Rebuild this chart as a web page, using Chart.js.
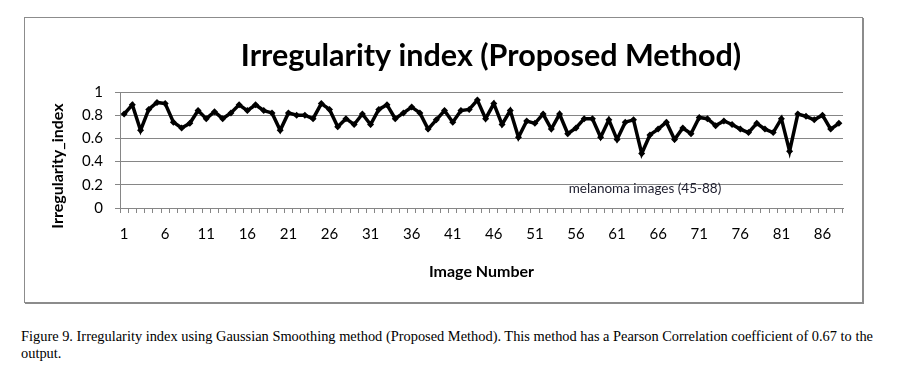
<!DOCTYPE html>
<html>
<head>
<meta charset="utf-8">
<script src="https://cdn.jsdelivr.net/npm/chart.js@4/dist/chart.umd.min.js"></script>
<style>
  body { margin: 0; background: #fff; width: 903px; height: 381px; position: relative; overflow: hidden; }
  #frame { position: absolute; left: 24px; top: 17px; width: 837px; height: 284px;
           border: 1px solid #8c8c8c; box-shadow: 1px 1px 0 #8c8c8c; }
  #caption { position: absolute; left: 21px; top: 328px; width: 870px; margin: 0;
             font-family: "Liberation Serif", serif; font-size: 14.4px; line-height: 17px; color: #000; }
</style>
</head>
<body>
<div id="frame"><canvas id="myChart" width="837" height="284"></canvas></div>
<p id="caption">Figure 9. Irregularity index using Gaussian Smoothing method (Proposed Method). This method has a Pearson Correlation coefficient of 0.67 to the output.</p>
<script>
// image numbers 1..88
var imagens = [];
for (var i = 1; i <= 88; i++) imagens.push(String(i));

var indice = [
  0.81, 0.89, 0.67, 0.85, 0.91, 0.90, 0.74, 0.69, 0.73, 0.84,
  0.77, 0.83, 0.77, 0.82, 0.89, 0.84, 0.89, 0.84, 0.82, 0.67,
  0.82, 0.80, 0.80, 0.77, 0.90, 0.85, 0.70, 0.77, 0.72, 0.81,
  0.72, 0.85, 0.89, 0.77, 0.82, 0.87, 0.82, 0.68, 0.76, 0.84,
  0.74, 0.84, 0.85, 0.93, 0.77, 0.90, 0.72, 0.84, 0.61, 0.75,
  0.73, 0.81, 0.68, 0.81, 0.64, 0.69, 0.77, 0.77, 0.61, 0.76,
  0.59, 0.74, 0.76, 0.47, 0.63, 0.68, 0.74, 0.59, 0.69, 0.64,
  0.78, 0.77, 0.71, 0.75, 0.72, 0.68, 0.65, 0.73, 0.68, 0.65,
  0.77, 0.49, 0.81, 0.79, 0.76, 0.80, 0.68, 0.73
];

var yTicks = [0, 0.2, 0.4, 0.6, 0.8, 1];

var anotacao = { texto: 'melanoma images (45-88)', imagem: '55', valor: 0.165 };
var tituloY = 'Irregularity_index';

var fonte = 'Lato, "Open Sans", sans-serif';
var cinza = '#868686';

var pluginTexto = {
  id: 'textosExtra',
  afterLayout: function (chart) {
    // title sits right of the frame centre, like the original
    chart.titleBlock.left += 114;
  },
  afterDatasetsDraw: function (chart) {
    var ctx = chart.ctx;
    var x = chart.scales.x.getPixelForValue(imagens.indexOf(anotacao.imagem)) + 1;
    var y = chart.scales.y.getPixelForValue(anotacao.valor);
    ctx.save();
    ctx.font = '13.5px ' + fonte;
    ctx.fillStyle = '#1f1f2f';
    ctx.textAlign = 'left';
    ctx.textBaseline = 'middle';
    ctx.fillText(anotacao.texto, x, y);

    // y axis title, a little lower than the plot centre
    ctx.translate(33, 148);
    ctx.rotate(-Math.PI / 2);
    ctx.font = 'bold 16px ' + fonte;
    ctx.fillStyle = '#000';
    ctx.textAlign = 'center';
    ctx.fillText(tituloY, 0, 0);
    ctx.restore();
  }
};

var ctx = document.getElementById('myChart');
window.myChart = new Chart(ctx, {
  type: 'line',
  data: {
    labels: imagens,
    datasets: [{
      label: 'Irregularity index',
      data: indice,
      borderColor: '#000',
      backgroundColor: '#000',
      borderWidth: 3.5,
      tension: 0,
      pointStyle: 'rectRot',
      pointRadius: 3.5,
      pointBorderWidth: 0
    }]
  },
  options: {
    responsive: false,
    animation: false,
    layout: { padding: { left: 0, right: 19, top: 0, bottom: 0 } },
    plugins: {
      legend: { display: false },
      tooltip: { enabled: false },
      title: {
        display: true,
        text: 'Irregularity index (Proposed Method)',
        color: '#000',
        font: { family: fonte, size: 30.5, weight: 'bold', lineHeight: 1.2 },
        padding: { top: 20, bottom: 17.4 }
      }
    },
    scales: {
      x: {
        offset: true,
        grid: { offset: true, drawOnChartArea: false, drawTicks: true, tickLength: 5, color: cinza },
        border: { color: cinza, width: 1 },
        ticks: {
          autoSkip: false, maxRotation: 0, padding: 12, color: '#000',
          font: { family: fonte, size: 15 },
          callback: function (v, i) { return i % 5 === 0 ? imagens[i] : ''; }
        },
        title: {
          display: true, text: 'Image Number', color: '#000',
          font: { family: fonte, size: 16, weight: 'bold', lineHeight: 1.2 },
          padding: { top: 10, bottom: 21 }
        },
        afterFit: function (s) { s.height = 94; }
      },
      y: {
        min: 0, max: 1,
        afterBuildTicks: function (s) { s.ticks = yTicks.map(function (v) { return { value: v }; }); },
        grid: { color: cinza, tickLength: 5 },
        border: { color: cinza, width: 1 },
        ticks: {
          padding: 12, color: '#000',
          font: { family: fonte, size: 15 },
          callback: function (v) { return String(v); }
        },
        afterFit: function (s) { s.width = 95; }
      }
    }
  },
  plugins: [pluginTexto]
});
</script>
</body>
</html>
